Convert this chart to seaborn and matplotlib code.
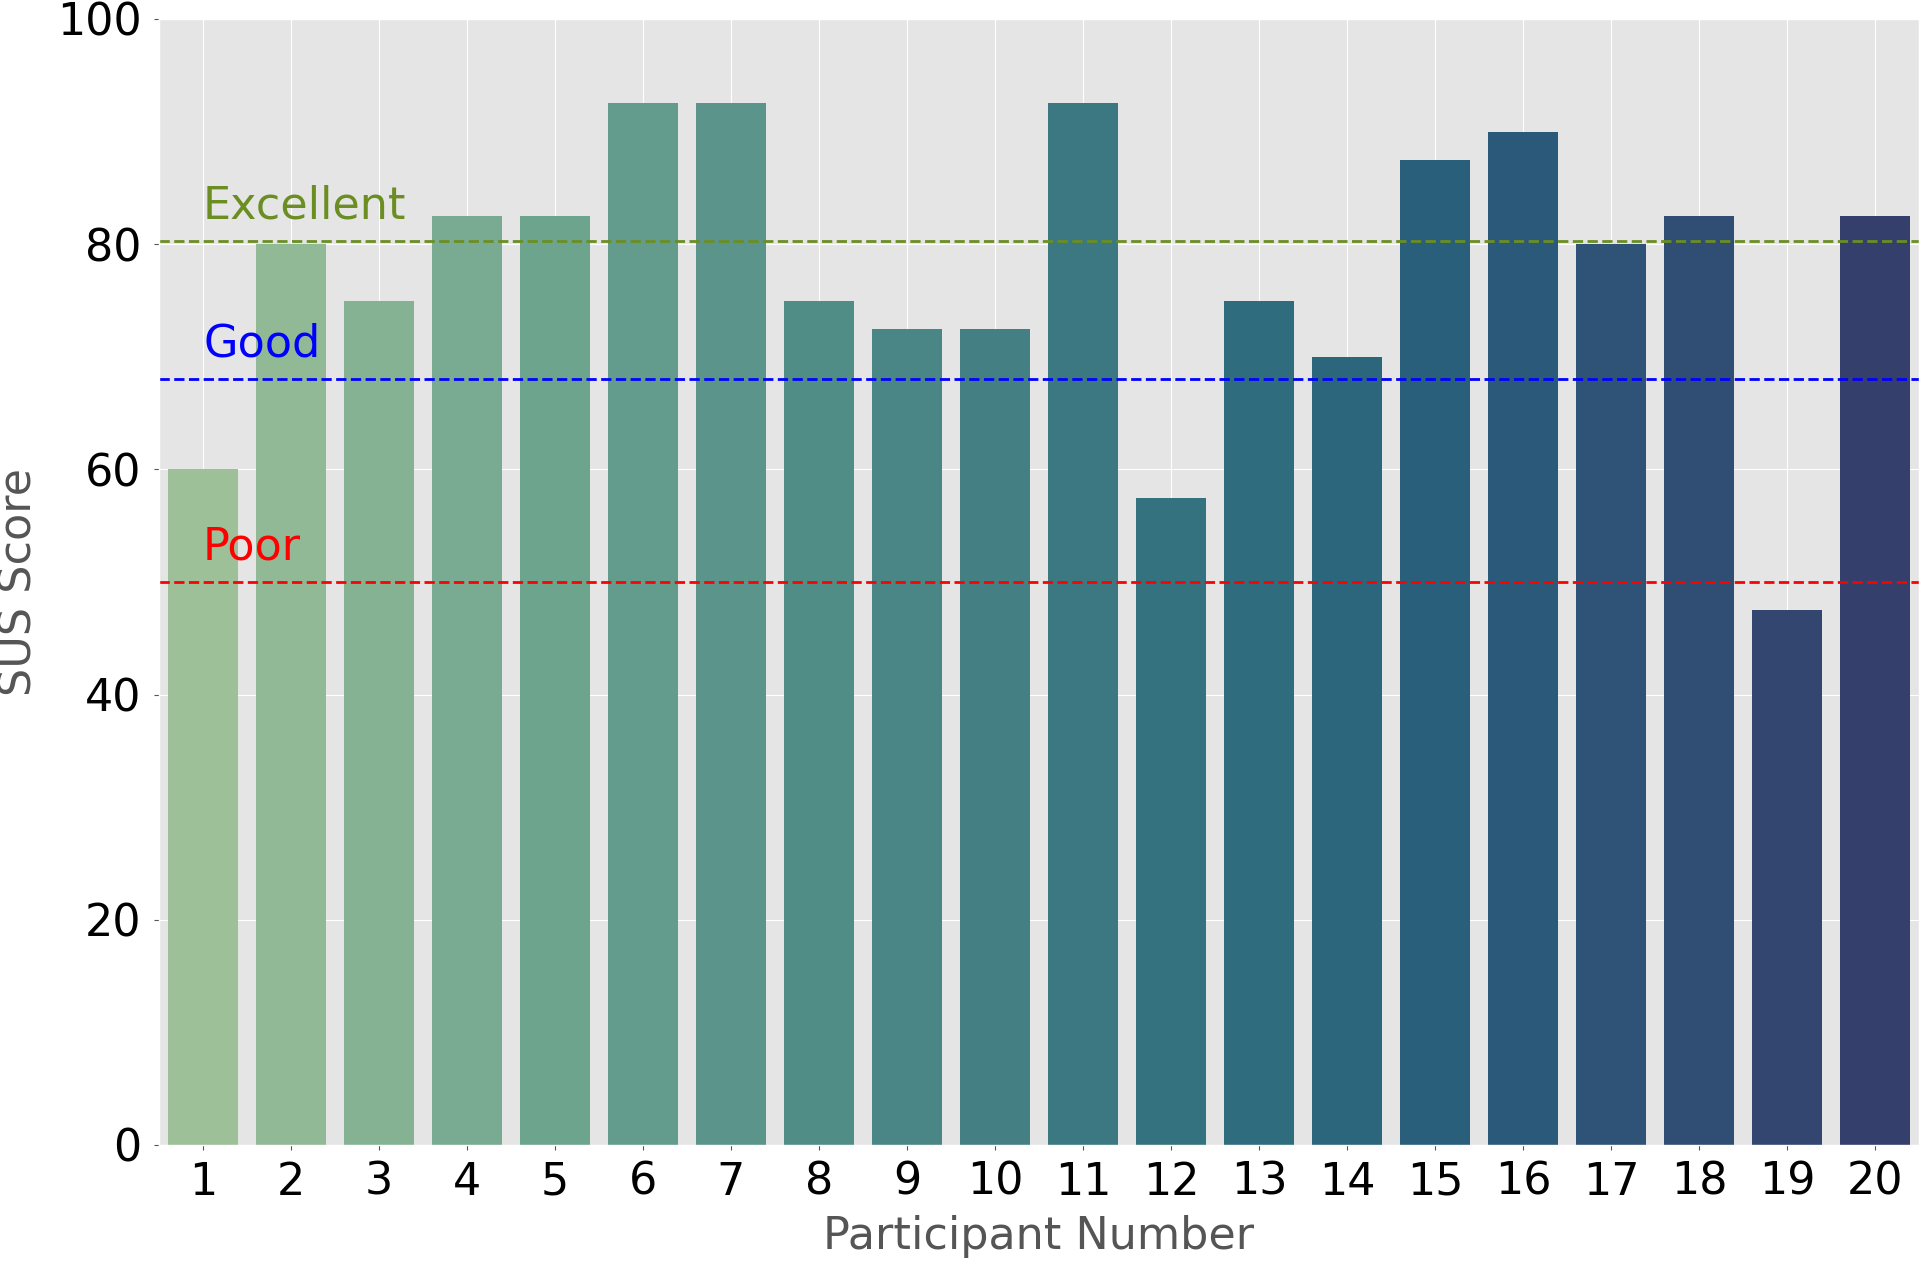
import matplotlib
matplotlib.use("Agg")
import matplotlib.pyplot as plt
import seaborn as sns
import pandas as pd

# SUS scores per participant
participants = [str(i) for i in range(1, 21)]
sus_scores = [60, 80, 75, 82.5, 82.5, 92.5, 92.5, 75, 72.5, 72.5,
              92.5, 57.5, 75, 70, 87.5, 90, 80, 82.5, 47.5, 82.5]

# benchmark thresholds
threshold_names = ["Excellent", "Good", "Poor"]
threshold_values = [80.3, 68, 50]
threshold_colors = ["olivedrab", "blue", "red"]

plt.style.use("ggplot")

df = pd.DataFrame({"Participant Number": participants, "SUS Score": sus_scores})

fig = plt.figure(figsize=(19.2, 12.63), dpi=100)
ax = fig.add_axes([159 / 1920, 118 / 1263, 1760 / 1920, 1126 / 1263])

sns.barplot(data=df, x="Participant Number", y="SUS Score", hue="Participant Number",
            palette="crest", legend=False, ax=ax)

for name, val, col in zip(threshold_names, threshold_values, threshold_colors):
    ax.axhline(val, color=col, linestyle="--", linewidth=2)
    ax.text(0, val + 2, name, color=col, fontsize=32)

ax.set_ylim(0, 100)
ax.set_xlim(-0.5, 19.5)
ax.set_yticks([0, 20, 40, 60, 80, 100])
ax.xaxis.grid(True, color="white")
ax.yaxis.grid(True, color="white")
ax.set_axisbelow(True)
ax.tick_params(axis="both", labelsize=32, labelcolor="black")
ax.tick_params(axis="x", pad=8)
ax.tick_params(axis="y", pad=9)
ax.set_xlabel("Participant Number", fontsize=32, color="#555555", labelpad=8)
ax.set_ylabel("SUS Score", fontsize=32, color="#555555", labelpad=12)

fig.savefig("out.png", dpi=100)
